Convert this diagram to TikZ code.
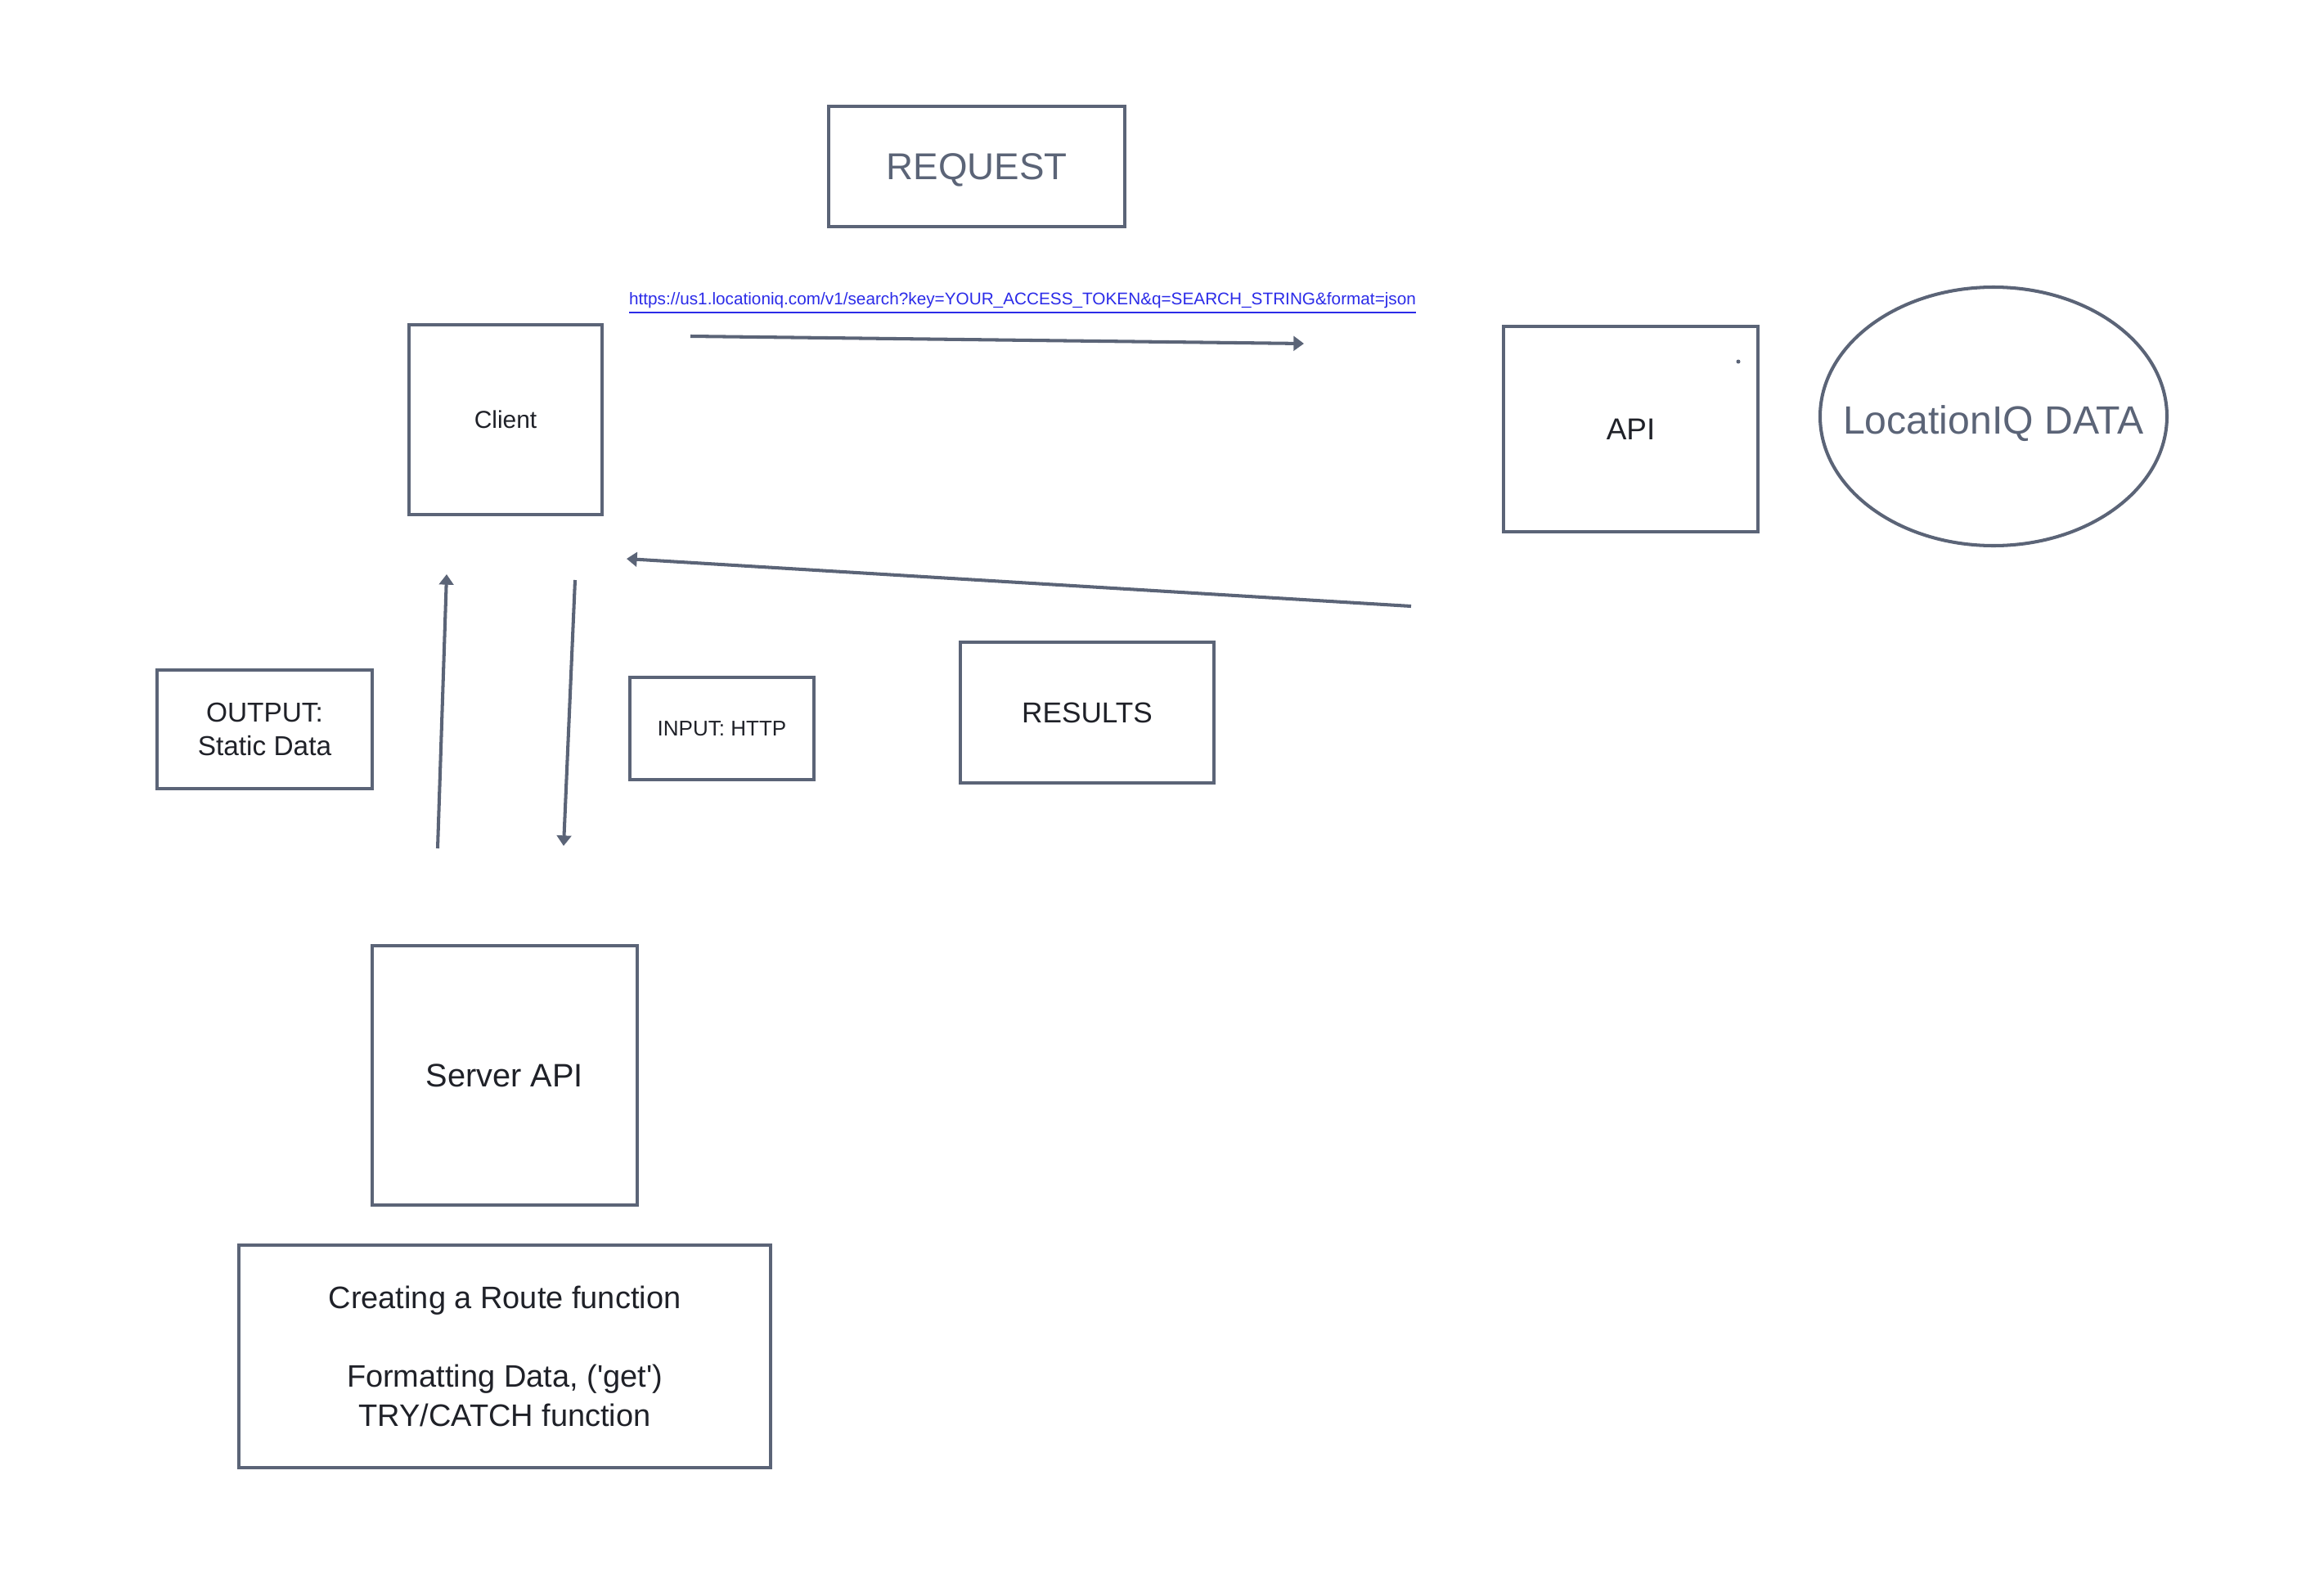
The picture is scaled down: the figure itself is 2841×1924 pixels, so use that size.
\documentclass[tikz,border=0pt]{standalone}
\usepackage{fontspec}
\setmainfont{Liberation Sans}
\usetikzlibrary{arrows.meta}

\definecolor{edge}{HTML}{5B6477}
\definecolor{ink}{HTML}{1F2128}
\definecolor{link}{HTML}{2B2BE8}

\tikzset{
  box/.style={draw=edge, line width=1.15pt, rectangle, inner sep=0pt, text=ink, align=center},
  flow/.style={draw=edge, line width=1.15pt, -{Triangle[width=5pt,length=3.6pt]}},
}

\begin{document}
\begin{tikzpicture}[x=0.01cm,y=-0.01cm]
			\useasboundingbox (0,0) rectangle (2841,1924);

			\node[box, minimum width=3.62cm, minimum height=1.47cm, text=edge, text depth=0pt, font=\fontsize{13}{15}\selectfont] (request) at (1194,203.5) {REQUEST};
			\node[text=link, inner sep=0pt, font=\fontsize{5.9}{7}\selectfont] (url) at (1250,371) {\underline{https://us1.locationiq.com/v1/search?key=YOUR\_ACCESS\_TOKEN\&q=SEARCH\_STRING\&format=json}};

			\node[box, minimum width=2.36cm, minimum height=2.32cm, font=\fontsize{8.5}{10}\selectfont] (client) at (618,513) {Client};
			\node[box, minimum width=3.10cm, minimum height=2.51cm, font=\fontsize{10.5}{12}\selectfont] (api) at (1993.5,524.5) {API};
			\fill[edge] (2125,442) circle (2.5);
			\node[inner sep=0pt, text=edge, text depth=0pt, font=\fontsize{13.7}{16}\selectfont] (locdata) at (2437,513) {LocationIQ DATA};
			\draw[edge, line width=1.15pt] (2437,509) ellipse (212 and 158);

			\node[box, minimum width=2.63cm, minimum height=1.45cm, font=\fontsize{9.5}{11.9}\selectfont] (output) at (323.5,891.5) {OUTPUT:\\Static Data};
			\node[box, minimum width=2.25cm, minimum height=1.25cm, font=\fontsize{7.4}{9}\selectfont] (input) at (882.5,890.5) {INPUT: HTTP};
			\node[box, minimum width=3.10cm, minimum height=1.72cm, font=\fontsize{10}{12}\selectfont] (results) at (1329,871) {RESULTS};

			\node[box, minimum width=3.24cm, minimum height=3.17cm, font=\fontsize{11.3}{13}\selectfont] (server) at (617,1314.5) {Server API};
			\node[box, minimum width=6.50cm, minimum height=2.72cm, font=\fontsize{10.8}{13.7}\selectfont] (route) at (617,1658) {Creating a Route function\\[13.7pt]Formatting Data, (\textquotesingle get\textquotesingle)\\TRY/CATCH function};

			% free arrow ends
			\coordinate (reqA) at (844,411);
			\coordinate (reqB) at (1594,420);
			\coordinate (resA) at (1725,741);
			\coordinate (resB) at (766,683);
			\coordinate (upA) at (535,1037);
			\coordinate (upB) at (546,702);
			\coordinate (dnA) at (703,709);
			\coordinate (dnB) at (689,1034);

			\draw[flow] (reqA) -- (reqB);
			\draw[flow] (resA) -- (resB);
			\draw[flow] (upA) -- (upB);
			\draw[flow] (dnA) -- (dnB);
		\end{tikzpicture}
\end{document}
